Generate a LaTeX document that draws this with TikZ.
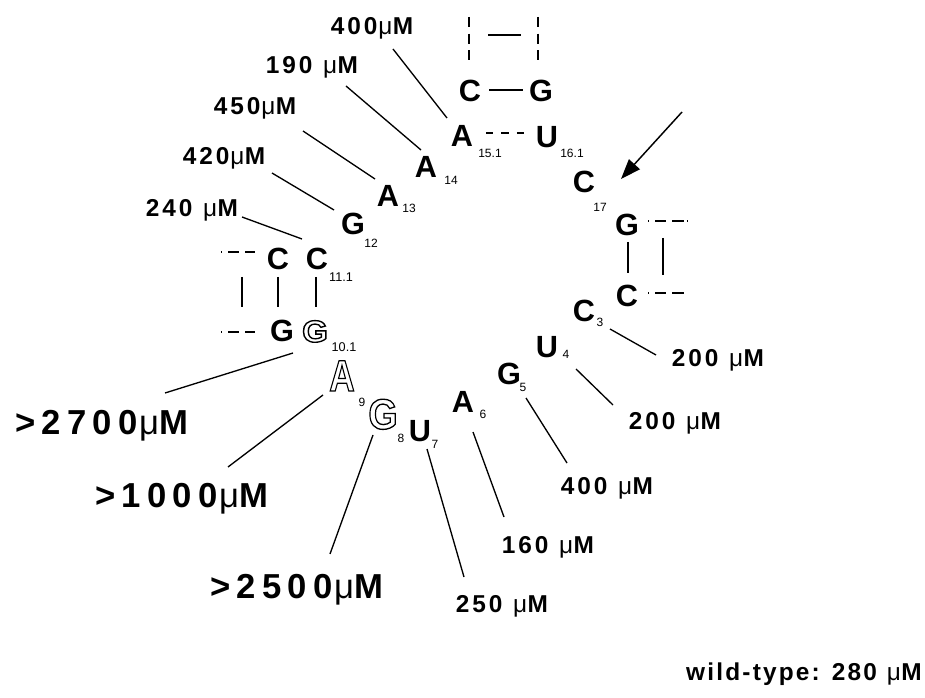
\documentclass[tikz,border=0pt]{standalone}
\usepackage{fontspec}
\setmainfont{Liberation Sans}
\newfontfamily\labfont{Liberation Sans}[LetterSpace=12]
\newfontfamily\biglabfont{Liberation Sans}[LetterSpace=18]
\newfontfamily\wtfont{Liberation Sans}[LetterSpace=9]
\newfontfamily\mufont{Liberation Sans}
\usetikzlibrary{arrows.meta}

% upright micro sign, light weight
\newcommand\micro{{\mufont\mdseries\kern0.04em μ\kern0.02em}}
% hollow (stroked outline) nucleotide letter
\newcommand\hollow[2]{\scalebox{#1}[1]{\special{pdf:literal direct 1 Tr 1.0 w}#2\special{pdf:literal direct 0 Tr}}}

\begin{document}
\begin{tikzpicture}[x=0.75pt,y=-0.75pt,
  nt/.style={font=\fontsize{23}{23}\selectfont\bfseries, inner sep=0pt, anchor=base},
  ntout/.style={inner sep=0pt, anchor=base},
  idx/.style={font=\fontsize{9}{9}\selectfont, inner sep=0pt, anchor=base},
  conc/.style={font=\labfont\fontsize{18.3}{19}\selectfont\bfseries, inner sep=0pt, anchor=base},
  bigconc/.style={font=\biglabfont\fontsize{26}{27}\selectfont\bfseries, inner sep=0pt, anchor=base},
  plainconc/.style={font=\wtfont\fontsize{18.3}{19}\selectfont\bfseries, inner sep=0pt, anchor=base east},
  lead/.style={line width=1pt},
  pair/.style={line width=1pt},
  pairdash/.style={line width=1pt, dash pattern=on 5.6pt off 6pt},
  stack/.style={line width=1pt, dash pattern=on 7.5pt off 4.9pt},
  openend/.style={line width=1pt, dash pattern=on 1.1pt off 4.5pt on 8pt off 4.5pt on 9pt off 2pt},
  cutarrow/.style={line width=1.1pt, -{Triangle[length=15pt,width=11pt]}}
]
\path[fill=white] (0,0) rectangle (925,698);
\useasboundingbox (0,0) rectangle (925,698);

% ---------- nucleotides ----------
\node[nt] (ctop) at (470,102) {C};
\node[nt] (gtop) at (541,102) {G};
\node[nt] (a151) at (462,147) {A};
\node[idx] (a151i) at (490,158) {15.1};
\node[nt] (u161) at (547,148) {U};
\node[idx] (u161i) at (572,158) {16.1};
\node[nt] (c17) at (584,193) {C};
\node[idx] (c17i) at (600,212) {17};
\node[nt] (gR) at (627,236) {G};
\node[nt] (cR) at (627,307) {C};
\node[nt] (c3) at (584,322) {C};
\node[idx] (c3i) at (600,327) {3};
\node[nt] (u4) at (547,358) {U};
\node[idx] (u4i) at (566,359) {4};
\node[nt] (g5) at (509,385) {G};
\node[idx] (g5i) at (523,392) {5};
\node[nt] (a6) at (463,413) {A};
\node[idx] (a6i) at (483,419) {6};
\node[nt] (u7) at (420,442) {U};
\node[idx] (u7i) at (435,449) {7};
\node[ntout, font=\fontsize{32}{32}\selectfont\bfseries] (g8) at (383,429) {\hollow{0.88}{G}};
\node[idx] (g8i) at (401,443) {8};
\node[ntout, font=\fontsize{33}{33}\selectfont\bfseries] (a9) at (342,391) {\hollow{0.8}{A}};
\node[idx] (a9i) at (362,407) {9};
\node[ntout, font=\fontsize{23}{23}\selectfont\bfseries] (g101) at (315,342) {\hollow{1.08}{G}};
\node[idx, font=\fontsize{9.5}{10}\selectfont] (g101i) at (344,352) {10.1};
\node[nt] (gL) at (282,342) {G};
\node[nt] (cL) at (278,270) {C};
\node[nt] (c111) at (317,270) {C};
\node[idx, font=\fontsize{9.5}{10}\selectfont] (c111i) at (341,282) {11.1};
\node[nt] (g12) at (353,235) {G};
\node[idx] (g12i) at (371,248) {12};
\node[nt] (a13) at (388,207) {A};
\node[idx] (a13i) at (409,213) {13};
\node[nt] (a14) at (426,178) {A};
\node[idx] (a14i) at (451,185) {14};

% ---------- base pairs and stacked stems ----------
\draw[stack] (469,17) -- (469,60);
\draw[stack] (538,17) -- (538,60);
\draw[pair] (488,35) -- (521,35);
\draw[pair] (489,90) -- (523,90);
\draw[pairdash] (486,133) -- (525,133);

\draw[openend] (648,221) -- (687,221);
\draw[openend] (648,293) -- (686,293);
\draw[pair] (628,242) -- (628,273);
\draw[pair] (663,238) -- (663,275);

\draw[openend] (221,252) -- (255,252);
\draw[openend] (221,332) -- (255,332);
\draw[pair] (242,277) -- (242,307);
\draw[pair] (278,277) -- (278,307);
\draw[pair] (316,277) -- (316,307);

% ---------- cleavage site ----------
\coordinate (cutfrom) at (682,112);
\coordinate (cutto) at (621,179);
\draw[cutarrow] (cutfrom) -- (cutto);

% ---------- concentrations ----------
\node[conc] (k400t) at (372,35) {400\micro M};
\node[conc] (k190) at (312,74) {190 \micro M};
\node[conc] (k450) at (255,115) {450\micro M};
\node[conc] (k420) at (224,165) {420\micro M};
\node[conc] (k240) at (192,217) {240 \micro M};
\node[conc] (k200a) at (718,367) {200 \micro M};
\node[conc] (k200b) at (675,430) {200 \micro M};
\node[conc] (k400b) at (607,495) {400 \micro M};
\node[conc] (k160) at (548,553) {160 \micro M};
\node[conc] (k250) at (502,612) {250 \micro M};
\node[bigconc] (k2700) at (102,435) {>2700\micro M};
\node[bigconc] (k1000) at (182,508) {>1000\micro M};
\node[bigconc] (k2500) at (297,598) {>2500\micro M};
\node[plainconc] (kwt) at (922,680) {wild-type: 280 \micro M};

% ---------- leader lines ----------
\foreach \n/\ax/\ay/\bx/\by in {
  400t/393/49/447/118, 190/346/86/421/150, 450/303/131/375/179,
  420/272/173/334/210, 240/242/217/302/239, 200a/656/355/610/329,
  200b/613/405/576/369, 400b/567/463/526/398, 160/504/517/473/432,
  250/464/577/427/449, 2700/165/393/293/353, 1000/228/467/323/395,
  2500/330/554/373/435} {
  \coordinate (f\n) at (\ax,\ay);
  \coordinate (t\n) at (\bx,\by);
  \draw[lead] (f\n) -- (t\n);
}
\end{tikzpicture}
\end{document}
